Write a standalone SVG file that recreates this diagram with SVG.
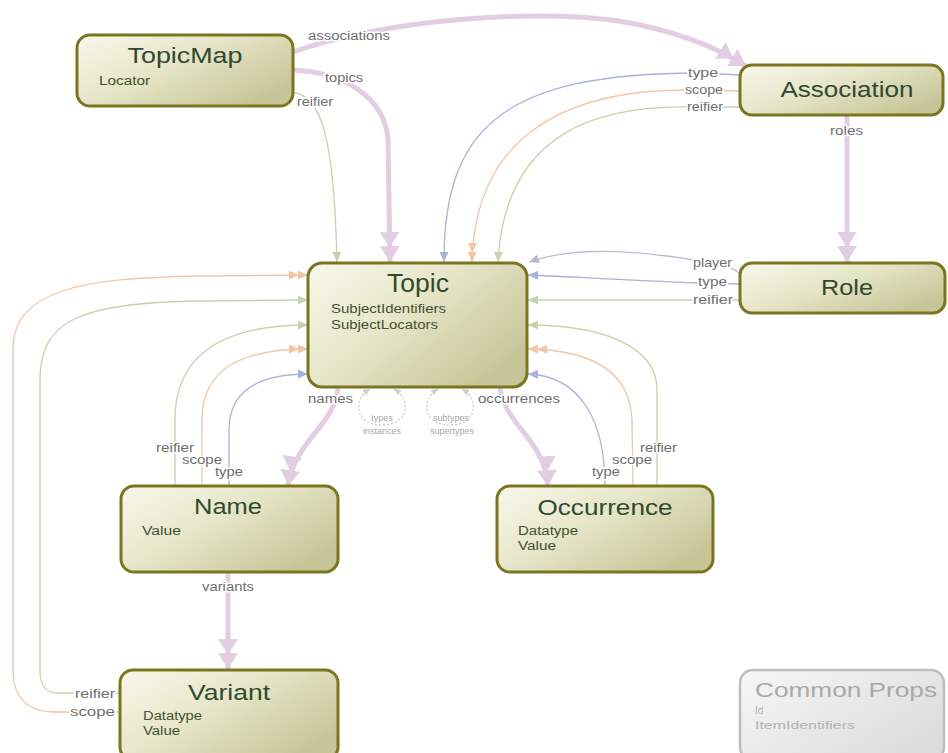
<svg xmlns="http://www.w3.org/2000/svg" width="948" height="753" viewBox="0 0 948 753">
<style>
.node{stroke:#7a7620;stroke-width:3;fill:url(#nodeFill)}
.title{font-family:"Liberation Sans",Arial,sans-serif;font-size:22px;fill:#2f4a30;text-anchor:middle}
.attr{font-family:"Liberation Sans",Arial,sans-serif;font-size:12px;fill:#3f5233}
.lbl{font-family:"Liberation Sans",Arial,sans-serif;font-size:12px;fill:#6e6e6e;stroke:#fff;stroke-width:3px;paint-order:stroke;stroke-linejoin:round}
.small{font-family:"Liberation Sans",Arial,sans-serif;font-size:9px;fill:#a8a8a8;text-anchor:middle}
.thick{fill:none;stroke:#e2cde2;stroke-width:5}
.g{fill:none;stroke:#c3d3ae;stroke-width:1.3}
.o{fill:none;stroke:#f1c6a6;stroke-width:1.3}
.b{fill:none;stroke:#a9b3d9;stroke-width:1.3}
.p{fill:none;stroke:#bdb6d0;stroke-width:1.3}
.loop{fill:none;stroke:#c4c4c4;stroke-width:1.1;stroke-dasharray:2 2}
</style>
<defs>
<linearGradient id="nodeFill" x1="0" y1="0" x2="1" y2="0.7">
<stop offset="0" stop-color="#f8f8ec"/>
<stop offset="0.45" stop-color="#e8e7cb"/>
<stop offset="1" stop-color="#c7c597"/>
</linearGradient>
<linearGradient id="greyFill" x1="0" y1="0" x2="1" y2="0.7">
<stop offset="0" stop-color="#f7f7f7"/>
<stop offset="1" stop-color="#dcdcdc"/>
</linearGradient>
<marker id="mG" viewBox="0 0 10 9" refX="10" refY="4.5" markerWidth="10" markerHeight="9" markerUnits="userSpaceOnUse" orient="auto"><path d="M0,0 L10,4.5 L0,9 Z" fill="#c3d3ae"/></marker>
<marker id="mB" viewBox="0 0 10 9" refX="10" refY="4.5" markerWidth="10" markerHeight="9" markerUnits="userSpaceOnUse" orient="auto"><path d="M0,0 L10,4.5 L0,9 Z" fill="#a9b3d9"/></marker>
<marker id="mP" viewBox="0 0 10 9" refX="10" refY="4.5" markerWidth="10" markerHeight="9" markerUnits="userSpaceOnUse" orient="auto"><path d="M0,0 L10,4.5 L0,9 Z" fill="#bdb6d0"/></marker>
<marker id="mO" viewBox="0 0 19 9" refX="19" refY="4.5" markerWidth="19" markerHeight="9" markerUnits="userSpaceOnUse" orient="auto"><path d="M0,0 L10,4.5 L0,9 Z M9,0 L19,4.5 L9,9 Z" fill="#f1c6a6"/></marker>
<marker id="mT" viewBox="0 0 30 20" refX="30" refY="10" markerWidth="30" markerHeight="20" markerUnits="userSpaceOnUse" orient="auto"><path d="M0,0 L15,10 L0,20 Z M14,0 L30,10 L14,20 Z" fill="#e2cde2"/></marker>
<marker id="mL" viewBox="0 0 7 7" refX="7" refY="3.5" markerWidth="7" markerHeight="7" markerUnits="userSpaceOnUse" orient="auto-start-reverse"><path d="M0,0 L7,3.5 L0,7 Z" fill="#cfcfcf"/></marker>
</defs>

<g id="connectors">
<!-- TopicMap -->
<path class="thick" d="M293,52 C380,20 550,5 640,25 C690,36 720,50 746,66" marker-end="url(#mT)"/>
<path class="thick" d="M293,70 C340,72 385,95 388,140 L390,262" marker-end="url(#mT)"/>
<path class="g" d="M292,92 C320,96 334,130 337,262" marker-end="url(#mG)"/>
<text class="lbl" x="308" y="40" textLength="82" lengthAdjust="spacingAndGlyphs">associations</text>
<text class="lbl" x="325" y="82" textLength="38" lengthAdjust="spacingAndGlyphs">topics</text>
<text class="lbl" x="297" y="106" textLength="36" lengthAdjust="spacingAndGlyphs">reifier</text>
<!-- Association -->
<path class="b" d="M740,75 L700,73 C500,73 444,130 444,262" marker-end="url(#mB)"/>
<path class="o" d="M740,91 L686,90 C560,90 475,140 472,262" marker-end="url(#mO)"/>
<path class="g" d="M740,107 L688,107 C600,106 505,130 498,262" marker-end="url(#mG)"/>
<text class="lbl" x="688" y="77" textLength="30" lengthAdjust="spacingAndGlyphs">type</text>
<text class="lbl" x="685" y="94" textLength="38" lengthAdjust="spacingAndGlyphs">scope</text>
<text class="lbl" x="687" y="111" textLength="36" lengthAdjust="spacingAndGlyphs">reifier</text>
<path class="thick" d="M847,116 L847,262" marker-end="url(#mT)"/>
<text class="lbl" x="830" y="135" textLength="33" lengthAdjust="spacingAndGlyphs">roles</text>
<!-- Role -->
<path class="p" d="M742,276 C735,268 725,264 712,263 C650,252 580,244 529,262" marker-end="url(#mP)"/>
<path class="b" d="M740,284 L700,283 C620,280 560,276 528,275" marker-end="url(#mB)"/>
<path class="g" d="M740,300 L528,300" marker-end="url(#mG)"/>
<text class="lbl" x="693" y="267" textLength="39" lengthAdjust="spacingAndGlyphs">player</text>
<text class="lbl" x="698" y="286" textLength="29" lengthAdjust="spacingAndGlyphs">type</text>
<text class="lbl" x="693" y="304" textLength="40" lengthAdjust="spacingAndGlyphs">reifier</text>
<!-- Occurrence -->
<path class="g" d="M657,486 L657,390 C657,345 600,325 528,325" marker-end="url(#mG)"/>
<path class="o" d="M633,486 L632,420 C630,370 590,350 528,349" marker-end="url(#mO)"/>
<path class="b" d="M605,486 C605,420 580,376 528,374" marker-end="url(#mB)"/>
<text class="lbl" x="640" y="452" textLength="37" lengthAdjust="spacingAndGlyphs">reifier</text>
<text class="lbl" x="612" y="464" textLength="40" lengthAdjust="spacingAndGlyphs">scope</text>
<text class="lbl" x="592" y="476" textLength="28" lengthAdjust="spacingAndGlyphs">type</text>
<!-- Name -->
<path class="g" d="M175,486 L175,420 C175,350 230,325 308,325" marker-end="url(#mG)"/>
<path class="o" d="M202,486 L202,420 C202,370 240,349 308,349" marker-end="url(#mO)"/>
<path class="b" d="M229,486 L229,430 C229,390 260,374 308,374" marker-end="url(#mB)"/>
<text class="lbl" x="156" y="452" textLength="38" lengthAdjust="spacingAndGlyphs">reifier</text>
<text class="lbl" x="182" y="464" textLength="40" lengthAdjust="spacingAndGlyphs">scope</text>
<text class="lbl" x="215" y="476" textLength="28" lengthAdjust="spacingAndGlyphs">type</text>
<!-- Variant -->
<path class="g" d="M120,693 L58,693 C45,693 40,685 40,670 L40,380 C40,320 80,303 200,301 L308,300" marker-end="url(#mG)"/>
<path class="o" d="M120,712 L55,712 C25,712 13,695 13,670 L13,350 C13,290 80,278 200,276 L308,275" marker-end="url(#mO)"/>
<text class="lbl" x="75" y="698" textLength="40" lengthAdjust="spacingAndGlyphs">reifier</text>
<text class="lbl" x="70" y="716" textLength="45" lengthAdjust="spacingAndGlyphs">scope</text>
<!-- Topic children -->
<path class="thick" d="M338,388 C335,425 295,440 288,486" marker-end="url(#mT)"/>
<path class="thick" d="M500,388 C505,425 545,440 548,486" marker-end="url(#mT)"/>
<text class="lbl" x="308" y="403" textLength="45" lengthAdjust="spacingAndGlyphs">names</text>
<text class="lbl" x="478" y="403" textLength="82" lengthAdjust="spacingAndGlyphs">occurrences</text>
<path class="thick" d="M228,573 L228,669" marker-end="url(#mT)"/>
<text class="lbl" x="202" y="591" textLength="52" lengthAdjust="spacingAndGlyphs">variants</text>
<!-- self loops -->
<path class="loop" d="M370,389 C352,400 355,425 382,425 C409,425 412,400 394,389" marker-start="url(#mL)" marker-end="url(#mL)"/>
<path class="loop" d="M438,389 C420,400 423,425 450,425 C477,425 480,400 462,389" marker-start="url(#mL)" marker-end="url(#mL)"/>
<text class="small" x="382" y="421">types</text>
<text class="small" x="382" y="434">instances</text>
<text class="small" x="451" y="421">subtypes</text>
<text class="small" x="452" y="434">supertypes</text>
</g>

<g id="node-topicmap">
<rect class="node" x="77" y="35" width="216" height="71" rx="13"/>
<text class="title" x="185" y="63" textLength="115" lengthAdjust="spacingAndGlyphs">TopicMap</text>
<text class="attr" x="99" y="85" textLength="51" lengthAdjust="spacingAndGlyphs">Locator</text>
</g>
<g id="node-association">
<rect class="node" x="740" y="65" width="203" height="50" rx="12"/>
<text class="title" x="847" y="97" textLength="133" lengthAdjust="spacingAndGlyphs">Association</text>
</g>
<g id="node-topic">
<rect class="node" x="308" y="263" width="219" height="124" rx="14"/>
<text class="title" x="418" y="292" style="font-size:25px" textLength="62" lengthAdjust="spacingAndGlyphs">Topic</text>
<text class="attr" x="331" y="313" textLength="115" lengthAdjust="spacingAndGlyphs">SubjectIdentifiers</text>
<text class="attr" x="331" y="329" textLength="107" lengthAdjust="spacingAndGlyphs">SubjectLocators</text>
</g>
<g id="node-role">
<rect class="node" x="740" y="263" width="205" height="50" rx="12"/>
<text class="title" x="847" y="295" textLength="52" lengthAdjust="spacingAndGlyphs">Role</text>
</g>
<g id="node-name">
<rect class="node" x="121" y="486" width="217" height="86" rx="13"/>
<text class="title" x="228" y="514" textLength="68" lengthAdjust="spacingAndGlyphs">Name</text>
<text class="attr" x="142" y="535" textLength="39" lengthAdjust="spacingAndGlyphs">Value</text>
</g>
<g id="node-occurrence">
<rect class="node" x="497" y="486" width="216" height="86" rx="13"/>
<text class="title" x="605" y="515" textLength="135" lengthAdjust="spacingAndGlyphs">Occurrence</text>
<text class="attr" x="518" y="535" textLength="60" lengthAdjust="spacingAndGlyphs">Datatype</text>
<text class="attr" x="518" y="550" textLength="38" lengthAdjust="spacingAndGlyphs">Value</text>
</g>
<g id="node-variant">
<rect class="node" x="120" y="670" width="218" height="90" rx="13"/>
<text class="title" x="229" y="700" textLength="82" lengthAdjust="spacingAndGlyphs">Variant</text>
<text class="attr" x="143" y="720" textLength="59" lengthAdjust="spacingAndGlyphs">Datatype</text>
<text class="attr" x="143" y="735" textLength="37" lengthAdjust="spacingAndGlyphs">Value</text>
</g>
<g id="node-commonprops">
<rect x="740" y="670" width="204" height="90" rx="13" fill="url(#greyFill)" stroke="#bdbdbd" stroke-width="2.5"/>
<text x="755" y="697" style="font-family:'Liberation Sans',Arial,sans-serif;font-size:20px;fill:#a9a9a9" textLength="182" lengthAdjust="spacingAndGlyphs">Common Props</text>
<text x="755" y="714" style="font-family:'Liberation Sans',Arial,sans-serif;font-size:10px;fill:#b3b3b3">Id</text>
<text x="755" y="729" style="font-family:'Liberation Sans',Arial,sans-serif;font-size:10px;fill:#b3b3b3" textLength="100" lengthAdjust="spacingAndGlyphs">ItemIdentifiers</text>
</g>
</svg>
